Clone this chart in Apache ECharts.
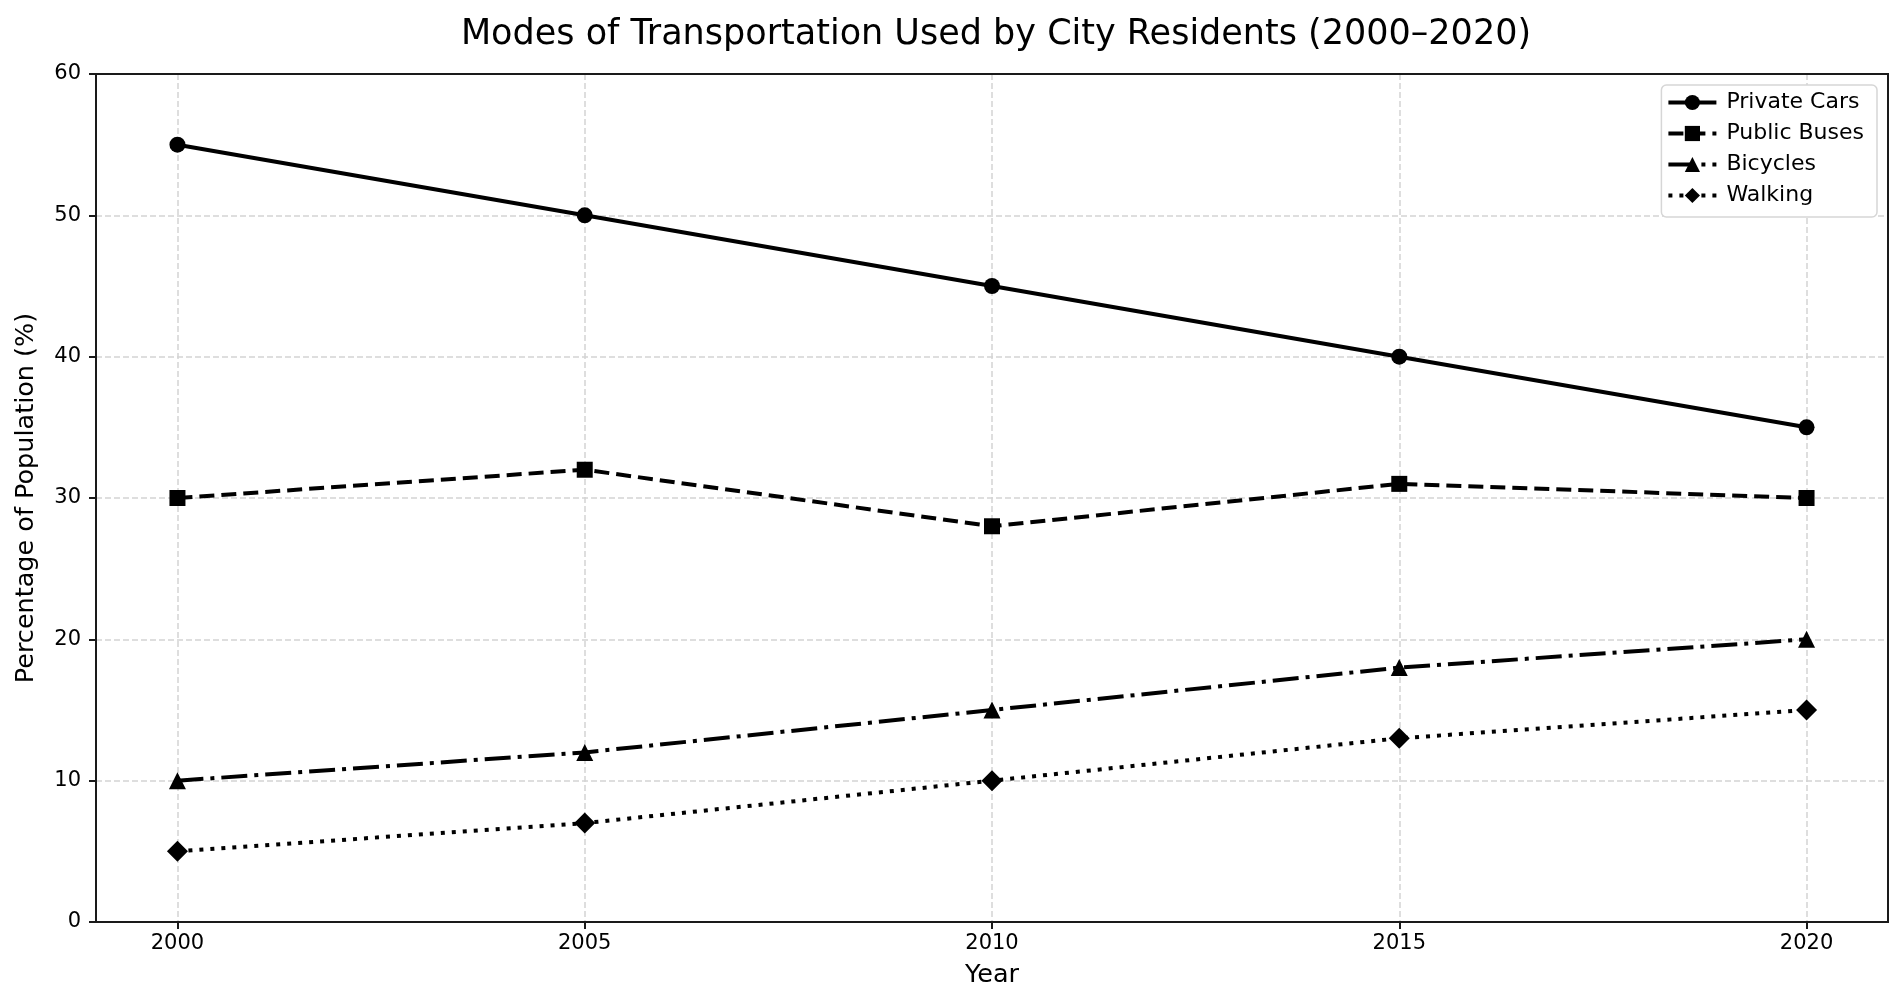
<!DOCTYPE html>
<html>
<head>
<meta charset="utf-8">
<script src="https://cdn.jsdelivr.net/npm/echarts@6/dist/echarts.min.js"></script>
<style>
  html, body { margin: 0; padding: 0; background: #fff; }
  #chart { width: 1904px; height: 1008px; }
</style>
</head>
<body>
<div id="chart"></div>
<script>
// data
const years = [2000, 2005, 2010, 2015, 2020];
const privateCars = [55, 50, 45, 40, 35];
const publicBuses = [30, 32, 28, 31, 30];
const bicycles = [10, 12, 15, 18, 20];
const walking = [5, 7, 10, 13, 15];
const yTicks = [0, 10, 20, 30, 40, 50, 60];

const FONT = '"DejaVu Sans", sans-serif';
const LW = 4;

function pairs(values) {
  return years.map((y, i) => [y, values[i]]);
}

function lineSeries(name, values, symbol, symbolSize, dash) {
  return {
    name: name,
    type: 'line',
    data: pairs(values),
    symbol: symbol,
    symbolSize: symbolSize,
    showSymbol: true,
    animation: false,
    z: 5,
    itemStyle: { color: '#000' },
    lineStyle: { color: '#000', width: LW, type: dash }
  };
}

const chart = echarts.init(document.getElementById('chart'));
chart.setOption({
  backgroundColor: '#fff',
  animation: false,
  textStyle: { fontFamily: FONT },
  title: {
    text: 'Modes of Transportation Used by City Residents (2000–2020)',
    left: 991,
    textAlign: 'center',
    top: 12,
    textStyle: { fontFamily: FONT, fontSize: 35, fontWeight: 'normal', color: '#000' }
  },
  legend: {
    orient: 'vertical',
    right: 27,
    top: 85,
    align: 'left',
    itemWidth: 48,
    itemHeight: 19,
    itemGap: 8,
    padding: [6, 13, 10, 5],
    backgroundColor: '#fff',
    borderColor: '#d6d6d6',
    borderWidth: 1.5,
    borderRadius: 5,
    lineStyle: { width: LW },
    textStyle: { fontFamily: FONT, fontSize: 22, color: '#000', lineHeight: 23, padding: [0, 0, 0, 5] },
    data: ['Private Cars', 'Public Buses', 'Bicycles', 'Walking']
  },
  grid: { left: 96, right: 16, top: 74, bottom: 86, containLabel: false },
  xAxis: {
    type: 'value',
    min: 1999,
    max: 2021,
    name: 'Year',
    nameLocation: 'middle',
    nameGap: 40,
    nameTextStyle: { fontFamily: FONT, fontSize: 25.5, color: '#000' },
    axisLine: { show: true, onZero: false, lineStyle: { color: '#1a1a1a', width: 2 } },
    axisTick: { show: true, length: 7, customValues: years, lineStyle: { color: '#1a1a1a', width: 2 } },
    axisLabel: {
      customValues: years,
      formatter: v => String(v),
      fontFamily: FONT, fontSize: 21, color: '#000', margin: 11
    },
    splitLine: { show: true, lineStyle: { color: '#d3d3d3', width: 1.5, type: [6, 3] } }
  },
  yAxis: {
    type: 'value',
    min: 0,
    max: 60,
    interval: 10,
    name: 'Percentage of Population (%)',
    nameLocation: 'middle',
    nameGap: 57,
    nameTextStyle: { fontFamily: FONT, fontSize: 25.5, color: '#000' },
    axisLine: { show: true, lineStyle: { color: '#1a1a1a', width: 2 } },
    axisTick: { show: true, length: 7, lineStyle: { color: '#1a1a1a', width: 2 } },
    axisLabel: {
      customValues: yTicks,
      fontFamily: FONT, fontSize: 21, color: '#000', margin: 15
    },
    splitLine: { show: true, lineStyle: { color: '#d3d3d3', width: 1.5, type: [6, 3] } }
  },
  series: [
    lineSeries('Private Cars', privateCars, 'circle', 16, 'solid'),
    lineSeries('Public Buses', publicBuses, 'rect', 16, [15, 7]),
    lineSeries('Bicycles', bicycles, 'triangle', 17, [26, 7, 4, 7]),
    lineSeries('Walking', walking, 'diamond', 21, [4, 7])
  ]
});

// closing frame on the top and right like the reference box
chart.setOption({
  graphic: [{
    type: 'rect',
    shape: { x: 96, y: 74, width: 1792, height: 848 },
    style: { fill: 'none', stroke: '#1a1a1a', lineWidth: 2 },
    silent: true,
    z: 100
  }]
});
</script>
</body>
</html>
